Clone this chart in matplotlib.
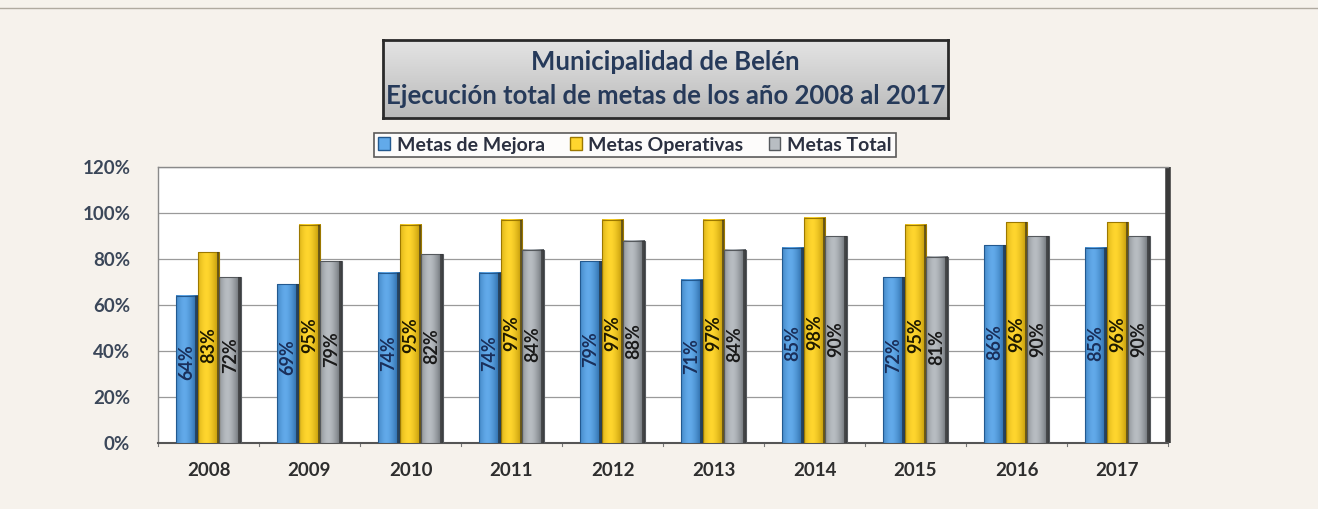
import matplotlib
matplotlib.use("Agg")
import matplotlib.pyplot as plt
import numpy as np
from matplotlib.patches import Rectangle
from matplotlib.colors import LinearSegmentedColormap

years = ["2008", "2009", "2010", "2011", "2012", "2013", "2014", "2015", "2016", "2017"]
mejora = [64, 69, 74, 74, 79, 71, 85, 72, 86, 85]
operativas = [83, 95, 95, 97, 97, 97, 98, 95, 96, 96]
total = [72, 79, 82, 84, 88, 84, 90, 81, 90, 90]
series_names = ["Metas de Mejora", "Metas Operativas", "Metas Total"]
yticks = [0, 20, 40, 60, 80, 100, 120]
title_lines = ["Municipalidad de Belén", "Ejecución total de metas de los año 2008 al 2017"]

FONT = ["Lato", "DejaVu Sans"]
plt.rcParams['font.family'] = FONT

W, H = 1318, 509
fig = plt.figure(figsize=(W / 100, H / 100), dpi=100)
fig.patch.set_facecolor("#f6f2ec")

ax = fig.add_axes([158 / W, 1 - 443 / H, 1010 / W, 276 / H])
ax.set_facecolor("white")
ax.set_xlim(-0.5, len(years) - 0.5)
ax.set_ylim(0, 120)
ax.set_yticks(yticks)
ax.set_yticklabels([f"{t}%" for t in yticks], fontsize=13.5, fontweight="bold", color="#3b4759")
ax.yaxis.grid(True, color="#9a9a9a", linewidth=0.9)
ax.set_axisbelow(True)
ax.set_xticks(range(len(years)))
ax.set_xticklabels(years, fontsize=13.5, fontweight="bold", color="#2e2e2e")
ax.tick_params(axis="x", length=0, pad=14)
ax.tick_params(axis="y", length=0, pad=20)
for s in ["left", "top"]:
    ax.spines[s].set_color("#8a8a8a")
    ax.spines[s].set_linewidth(1.0)
ax.spines["bottom"].set_color("#555555")
ax.spines["bottom"].set_linewidth(1.5)
ax.spines["right"].set_color("#3a3a3a")
ax.spines["right"].set_linewidth(4)
ax.spines["right"].set_capstyle("butt")

for b in np.arange(-0.5, len(years) + 0.5, 1):
    ax.plot([b, b], [0, -1.5], color="#777777", lw=0.8, clip_on=False)

colors = [
    ("#1f5d99", "#62aaea", "#23598f"),
    ("#b38b00", "#ffd62e", "#9c7800"),
    ("#5c6166", "#b8bdc2", "#55595d"),
]
label_colors = ["#1a2f5a", "#1f1a00", "#1a1a1a"]

bw = 0.215
offsets = [-bw, 0, bw]
xg = np.linspace(0, 1, 64)
prof = np.clip(1 - (np.abs(xg - 0.38) / 0.62) ** 1.6, 0, 1)
for si, vals in enumerate([mejora, operativas, total]):
    dark, light, edge = colors[si]
    cmap = LinearSegmentedColormap.from_list(f"c{si}", [dark, light])
    img = np.tile(prof, (2, 1))
    for i, v in enumerate(vals):
        x0 = i + offsets[si] - bw / 2
        ax.imshow(img, extent=[x0, x0 + bw, 0, v], aspect="auto", cmap=cmap,
                  vmin=0, vmax=1, zorder=3, interpolation="bilinear")
        ax.add_patch(Rectangle((x0, 0), bw, v, fill=False, edgecolor=edge, lw=0.8, zorder=4))
        ax.add_patch(Rectangle((x0 + bw * 0.88, 0), bw * 0.12, v, color="#222222", alpha=0.55, lw=0, zorder=4))
        ax.text(i + offsets[si], 0.38 * v + 11, f"{v}%", rotation=90, ha="center", va="center",
                fontsize=13, fontweight="bold", color=label_colors[si], zorder=5)
ax.set_xlim(-0.5, len(years) - 0.5)
ax.set_ylim(0, 120)

# Title box
tb = fig.add_axes([383 / W, 1 - 118 / H, 565 / W, 78 / H])
grad = np.linspace(1, 0, 64).reshape(-1, 1)
tb.imshow(grad, extent=[0, 1, 0, 1], aspect="auto",
          cmap=LinearSegmentedColormap.from_list("tg", ["#b9b9b9", "#e4e4e4"]), vmin=0, vmax=1)
tb.set_xlim(0, 1); tb.set_ylim(0, 1)
tb.set_xticks([]); tb.set_yticks([])
for s in tb.spines.values():
    s.set_color("#2a2a2a"); s.set_linewidth(2)
tb.text(0.5, 0.72, title_lines[0], ha="center", va="center", fontsize=18.5, fontweight="bold", color="#263a5a")
tb.text(0.5, 0.28, title_lines[1], ha="center", va="center", fontsize=18.5, fontweight="bold", color="#263a5a")

# Legend
handles = [Rectangle((0, 0), 1, 1, facecolor=c[1], edgecolor=c[2]) for c in colors]
leg = fig.legend(handles, series_names, loc="center", bbox_to_anchor=(635 / W, 1 - 145 / H),
                 ncol=3, frameon=True, fontsize=14, handlelength=0.6, handleheight=0.6,
                 handletextpad=0.35, columnspacing=1.3, borderpad=0.2, fancybox=False)
leg.get_frame().set_edgecolor("#333333")
leg.get_frame().set_linewidth(1.2)
for t in leg.get_texts():
    t.set_fontweight("bold"); t.set_color("#2b3040")

fig.add_artist(plt.Line2D([0, 1], [1 - 8 / H, 1 - 8 / H], color="#b0aaa0", lw=1))

fig.savefig("out.png", dpi=100, facecolor=fig.get_facecolor())
